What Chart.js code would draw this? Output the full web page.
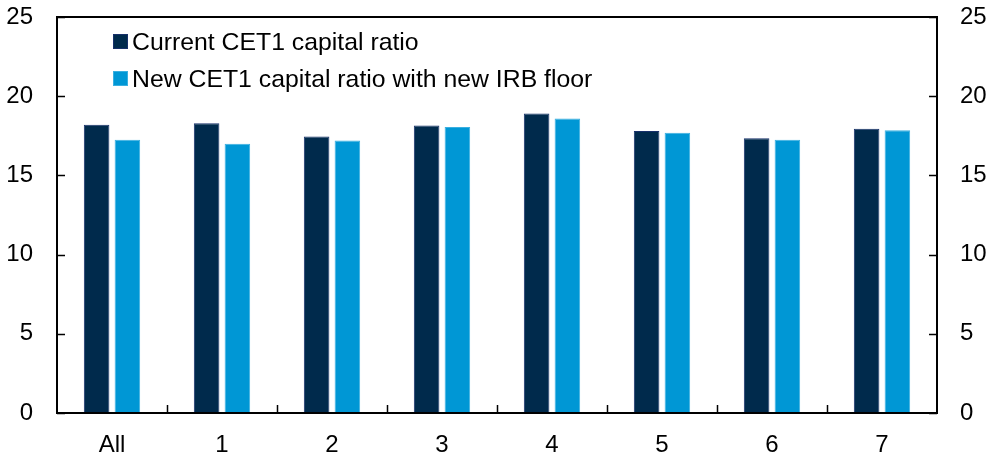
<!DOCTYPE html>
<html lang="en">
<head>
  <meta charset="utf-8">
  <title>CET1 capital ratios</title>
  <script src="https://cdn.jsdelivr.net/npm/chart.js@4.4.0/dist/chart.umd.min.js"></script>
  <style>
    html, body { margin: 0; padding: 0; background: #fff; }
    #wrap { position: relative; width: 992px; height: 456px; }
    #legend {
      position: absolute; left: 113px; top: 23px;
      font-family: "Liberation Sans", Arial, sans-serif; font-size: 24.8px; color: #000;
    }
    #legend .row { display: flex; align-items: center; height: 37px; }
    #legend .box { width: 15px; height: 15px; margin-right: 4px; box-sizing: border-box; }
  </style>
</head>
<body>
<div id="wrap">
  <canvas id="chart" width="992" height="456"></canvas>
  <div id="legend"></div>
</div>
<script>
  // data
  const categories = ['All', '1', '2', '3', '4', '5', '6', '7'];
  const currentRatio = [18.2, 18.3, 17.45, 18.15, 18.9, 17.8, 17.35, 17.95];
  const newRatio = [17.25, 17.0, 17.2, 18.05, 18.6, 17.7, 17.25, 17.85];
  const yTicks = [0, 5, 10, 15, 20, 25];

  const seriesNames = ['Current CET1 capital ratio', 'New CET1 capital ratio with new IRB floor'];
  const darkBlue = '#002A4C';
  const lightBlue = '#0097D5';

  // frame round the plot plus ticks pointing inwards
  const framePlugin = {
    id: 'frame',
    afterDatasetsDraw(chart) {
      const ctx = chart.ctx;
      const a = chart.chartArea;
      const x = chart.scales.x, y = chart.scales.y;
      ctx.save();
      ctx.strokeStyle = '#000';
      ctx.lineWidth = 1.5;
      ctx.beginPath();
      yTicks.forEach(function (v) {
        const py = Math.round(y.getPixelForValue(v)) + 0.5;
        ctx.moveTo(a.left, py); ctx.lineTo(a.left + 8, py);
        ctx.moveTo(a.right, py); ctx.lineTo(a.right - 8, py);
      });
      for (let i = 1; i < categories.length; i++) {
        const px = Math.round((x.getPixelForValue(i - 1) + x.getPixelForValue(i)) / 2) + 0.5;
        ctx.moveTo(px, a.bottom); ctx.lineTo(px, a.bottom - 8);
      }
      ctx.stroke();
      ctx.lineWidth = 2;
      ctx.strokeRect(a.left, a.top, a.right - a.left, a.bottom - a.top);
      ctx.restore();
    }
  };

  const font = { family: '"Liberation Sans", Arial, sans-serif', size: 24 };

  // fixed side widths, no extra padding for the end labels
  function fitY(w) {
    return function (s) { s.width = w; s.paddingTop = 0; s.paddingBottom = 0; };
  }

  const chart = new Chart(document.getElementById('chart'), {
    type: 'bar',
    data: {
      labels: categories,
      datasets: [
        { label: seriesNames[0], data: currentRatio, backgroundColor: darkBlue, borderColor: '#17306A', borderWidth: 1 },
        { label: seriesNames[1], data: newRatio, backgroundColor: lightBlue, borderColor: '#3AAFE0', borderWidth: 1 }
      ]
    },
    options: {
      responsive: false,
      animation: false,
      layout: { padding: { top: 17, left: 0, right: 0, bottom: 0 } },
      categoryPercentage: 0.56,
      barPercentage: 0.83,
      plugins: { legend: { display: false }, tooltip: { enabled: false } },
      scales: {
        x: {
          grid: { display: false, drawTicks: false },
          border: { display: false },
          ticks: { color: '#000', font: font, padding: 18 },
          afterFit: function (s) { s.height = 43; s.paddingLeft = 0; s.paddingRight = 0; }
        },
        y: {
          min: 0, max: 25,
          grid: { display: false, drawTicks: false },
          border: { display: false },
          ticks: { stepSize: 5, color: '#000', font: font, padding: 24 },
          afterFit: fitY(57)
        },
        y2: {
          position: 'right',
          min: 0, max: 25,
          grid: { display: false, drawTicks: false },
          border: { display: false },
          ticks: { stepSize: 5, color: '#000', font: font, padding: 23 },
          afterFit: fitY(55)
        }
      }
    },
    plugins: [framePlugin]
  });

  // legend as real text, built from the datasets
  const legend = document.getElementById('legend');
  chart.data.datasets.forEach(function (ds) {
    const row = document.createElement('div');
    row.className = 'row';
    const box = document.createElement('span');
    box.className = 'box';
    box.style.background = ds.backgroundColor;
    box.style.border = '1px solid ' + ds.borderColor;
    const txt = document.createElement('span');
    txt.textContent = ds.label;
    row.appendChild(box);
    row.appendChild(txt);
    legend.appendChild(row);
  });
</script>
</body>
</html>
